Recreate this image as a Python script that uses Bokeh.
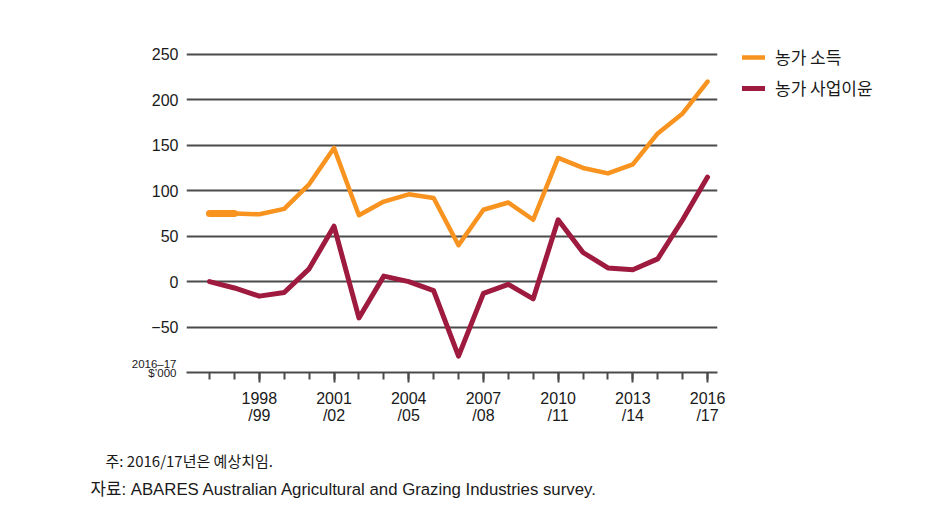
from bokeh.plotting import figure
from bokeh.models import FixedTicker, Range1d, Label, Legend, LegendItem
from bokeh.embed import file_html
from bokeh.resources import INLINE

# ---- data ----
years = list(range(1996, 2017))  # 1996/97 ... 2016/17
farm_income = [75, 75, 74, 80, 107, 147, 73, 88, 96, 92, 40, 79, 87, 68,
               136, 125, 119, 129, 163, 185, 220]
farm_profit = [0, -7, -16, -12, 14, 61, -40, 6, 0, -10, -82, -13, -3, -19,
               68, 32, 15, 13, 25, 68, 115]
major_years = [1998, 2001, 2004, 2007, 2010, 2013, 2016]
major_labels = ["1998\n/99", "2001\n/02", "2004\n/05", "2007\n/08",
                "2010\n/11", "2013\n/14", "2016\n/17"]
y_ticks = [-50, 0, 50, 100, 150, 200, 250]
y_labels = ["\u221250", "0", "50", "100", "150", "200", "250"]
series_names = ["농가 소득", "농가 사업이윤"]
unit_text = "2016\u201317\n$\u2019000"
notes = ["주: 2016/17년은 예상치임.",
         "자료: ABARES Australian Agricultural and Grazing Industries survey."]

ORANGE = "#F7931E"
RED = "#9E1A3E"
GRID = "#4a4a4a"
TXT = "#1a1a1a"
KFONT = "Noto Sans CJK KR"
NFONT = "Liberation Sans"
MIXFONT = "Liberation Sans, Noto Sans CJK KR"

p = figure(output_backend="svg", toolbar_location=None,
           x_range=Range1d(1995.076, 2016.40), y_range=Range1d(-100, 252),
           frame_width=531, frame_height=320,
           min_border_left=186, min_border_top=52,
           min_border_right=235, min_border_bottom=142,
           background_fill_color="white", border_fill_color="white")
p.outline_line_color = None

# y axis
p.yaxis.ticker = FixedTicker(ticks=y_ticks, minor_ticks=[])
p.yaxis.major_label_overrides = {t: l for t, l in zip(y_ticks, y_labels)}
p.yaxis.axis_line_color = None
p.yaxis.major_tick_line_color = None
p.yaxis.minor_tick_line_color = None
p.yaxis.major_label_standoff = 2
p.yaxis.major_label_text_font = NFONT
p.yaxis.major_label_text_font_size = "16px"
p.yaxis.major_label_text_color = TXT

p.ygrid.ticker = FixedTicker(ticks=y_ticks)
p.ygrid.grid_line_color = GRID
p.ygrid.grid_line_width = 2
p.xgrid.visible = False

# x axis
p.xaxis.ticker = FixedTicker(ticks=major_years, minor_ticks=years)
p.xaxis.major_label_overrides = {t: l for t, l in zip(major_years, major_labels)}
p.xaxis.axis_line_color = GRID
p.xaxis.axis_line_width = 2
p.xaxis.major_tick_line_color = GRID
p.xaxis.major_tick_line_width = 2
p.xaxis.major_tick_in = 0
p.xaxis.major_tick_out = 10
p.xaxis.minor_tick_line_color = GRID
p.xaxis.minor_tick_line_width = 2
p.xaxis.minor_tick_in = 0
p.xaxis.minor_tick_out = 7
p.xaxis.major_label_standoff = 7
p.xaxis.major_label_text_font = NFONT
p.xaxis.major_label_text_font_size = "16px"
p.xaxis.major_label_text_line_height = 1.0
p.xaxis.major_label_text_color = TXT

# lines
r_inc = p.line(years, farm_income, line_color=ORANGE, line_width=4.5,
               line_cap="round", line_join="round")
p.line(years[:2], farm_income[:2], line_color=ORANGE, line_width=7,
       line_cap="round")
r_pro = p.line(years, farm_profit, line_color=RED, line_width=5,
               line_cap="round", line_join="round")

legend = Legend(items=[LegendItem(label=series_names[0], renderers=[r_inc]),
                       LegendItem(label=series_names[1], renderers=[r_pro])],
                location=(25, 272), border_line_color=None,
                background_fill_alpha=0, padding=0, margin=0, spacing=6,
                glyph_width=23, glyph_height=12, label_height=12,
                label_standoff=10, label_text_font=KFONT,
                label_text_font_size="17px", label_text_color=TXT)
p.add_layout(legend, "right")

# unit label (left of the plot area)
p.add_layout(Label(x=73, y=4, x_units="screen", y_units="screen",
                   text=unit_text, text_align="right", text_baseline="middle",
                   text_font=NFONT, text_font_size="11.5px", text_color=TXT,
                   text_line_height=0.8), "left")

# notes (below)
p.add_layout(Label(x=-81, y=-13, x_units="screen", y_units="screen",
                   text=notes[0], text_baseline="middle",
                   text_font=KFONT, text_font_size="15px", text_color=TXT), "below")
p.add_layout(Label(x=-96, y=-23, x_units="screen", y_units="screen",
                   text=notes[1], text_baseline="middle",
                   text_font=MIXFONT, text_font_size="16.8px", text_color=TXT), "below")

open("out.html", "w").write(file_html(p, INLINE))
